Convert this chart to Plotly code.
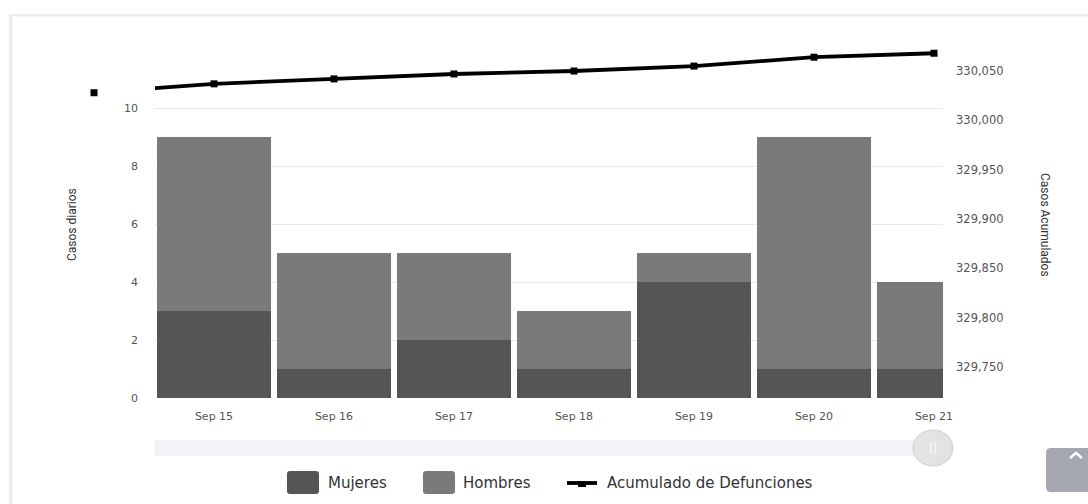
import plotly.graph_objects as go
from datetime import datetime, timedelta

# ---- data ----
bar_dates = ["2020-09-15", "2020-09-16", "2020-09-17", "2020-09-18",
             "2020-09-19", "2020-09-20", "2020-09-21"]
tick_labels = ["Sep 15", "Sep 16", "Sep 17", "Sep 18", "Sep 19", "Sep 20", "Sep 21"]
mujeres = [3, 1, 2, 1, 4, 1, 1]
hombres = [6, 4, 3, 2, 1, 8, 3]
line_dates = ["2020-09-14"] + bar_dates
acumulado = [330028, 330037, 330042, 330047, 330050, 330055, 330064, 330068]
left_ticks = [0, 2, 4, 6, 8, 10, 12]
left_ticktext = ["0", "2", "4", "6", "8", "10", ""]
right_ticks = [329750, 329800, 329850, 329900, 329950, 330000, 330050]

W, H = 1088, 504
ML = 40                 # paper left edge (px)
L, R, T, B = 155, 943, 50, 398   # plot area (px)
def px(x):
    return (x - ML) / (R - ML)
def py(y):
    return (B - y) / (B - T)

# date scale: 120 px per day, Sep 15 centred at x=214
ref_day = datetime(2020, 9, 15)
def date_at(p):
    return (ref_day + timedelta(days=(p - 214) / 120)).strftime("%Y-%m-%d %H:%M:%S")

DAY = 86400000
fig = go.Figure()
fig.add_trace(go.Bar(x=bar_dates, y=mujeres, name="Mujeres", width=0.95 * DAY,
                     marker=dict(color="#555555", line=dict(width=0)), showlegend=False))
fig.add_trace(go.Bar(x=bar_dates, y=hombres, name="Hombres", width=0.95 * DAY,
                     marker=dict(color="#7a7a7a", line=dict(width=0)), showlegend=False))
fig.add_trace(go.Scatter(x=line_dates, y=acumulado, name="Acumulado de Defunciones",
                         yaxis="y2", mode="lines",
                         line=dict(color="#000000", width=3.8), showlegend=False))
# bullets (drawn on a wider invisible subplot so the off-range bullet stays visible)
fig.add_trace(go.Scatter(x=line_dates, y=acumulado, name="Acumulado de Defunciones",
                         xaxis="x3", yaxis="y3", mode="markers", cliponaxis=False,
                         marker=dict(symbol="square", size=7, color="#000000"),
                         showlegend=False, hoverinfo="skip"))

tickfont = dict(family="'DejaVu Sans', sans-serif", size=11, color="#555555")
titlefont = dict(family="'Liberation Sans Narrow', 'Roboto', sans-serif", size=12, color="#333333")
yr2 = [329718.6, 330071.3]

fig.update_layout(
    width=W, height=H,
    margin=dict(l=ML, r=W - R, t=T, b=H - B),
    paper_bgcolor="white", plot_bgcolor="rgba(0,0,0,0)",
    barmode="stack", bargap=0,
    xaxis=dict(type="date", domain=[px(L), 1], range=[date_at(L), date_at(R)],
               tickvals=bar_dates, ticktext=tick_labels, showgrid=False,
               zeroline=False, showline=False, ticks="", tickfont=tickfont,
               ticklabelstandoff=10),
    yaxis=dict(range=[0, 12], tickvals=left_ticks, ticktext=left_ticktext,
               showgrid=True, gridcolor="#e9e9ee", gridwidth=1, zeroline=False,
               showline=False, ticks="", tickfont=tickfont, ticklabelstandoff=16),
    yaxis2=dict(overlaying="y", side="right", range=yr2,
                tickvals=right_ticks, tickformat=",", showgrid=False, zeroline=False,
                showline=False, ticks="", tickfont=dict(tickfont, size=11.5),
                ticklabelstandoff=12),
    xaxis3=dict(type="date", domain=[0, 1], range=[date_at(ML), date_at(R)],
                anchor="y3", visible=False, showgrid=False, zeroline=False),
    yaxis3=dict(domain=[0, 1], range=yr2, anchor="x3", visible=False,
                showgrid=False, zeroline=False),
)

shapes = []
# frame lines
shapes.append(dict(type="rect", xref="paper", yref="paper", x0=px(10), x1=px(1088),
                   y0=py(16.5), y1=py(14), fillcolor="#ebebf3", line=dict(width=0), layer="below"))
shapes.append(dict(type="rect", xref="paper", yref="paper", x0=px(9), x1=px(12.5),
                   y0=py(504), y1=py(14), fillcolor="#ebebf3", line=dict(width=0), layer="below"))
# scrollbar
shapes.append(dict(type="rect", xref="paper", yref="paper", x0=px(155), x1=px(950),
                   y0=py(456), y1=py(440), fillcolor="#f3f3f5", line=dict(width=0)))
shapes.append(dict(type="circle", xref="paper", yref="paper", x0=px(913), x1=px(953),
                   y0=py(466), y1=py(430), fillcolor="#e3e3e3", line=dict(color="#d0d0d0", width=1)))
shapes.append(dict(type="line", xref="paper", yref="paper", x0=px(931), x1=px(931),
                   y0=py(454), y1=py(442), line=dict(color="#f5f5f5", width=1.5)))
shapes.append(dict(type="line", xref="paper", yref="paper", x0=px(935), x1=px(935),
                   y0=py(454), y1=py(442), line=dict(color="#f5f5f5", width=1.5)))
# legend swatches
def rrect(x0, y0, x1, y1, r):
    return (f"M {px(x0+r)} {py(y0)} L {px(x1-r)} {py(y0)} Q {px(x1)} {py(y0)} {px(x1)} {py(y0+r)} "
            f"L {px(x1)} {py(y1-r)} Q {px(x1)} {py(y1)} {px(x1-r)} {py(y1)} "
            f"L {px(x0+r)} {py(y1)} Q {px(x0)} {py(y1)} {px(x0)} {py(y1-r)} "
            f"L {px(x0)} {py(y0+r)} Q {px(x0)} {py(y0)} {px(x0+r)} {py(y0)} Z")
shapes.append(dict(type="path", xref="paper", yref="paper", path=rrect(287, 471, 319, 494, 3),
                   fillcolor="#555555", line=dict(width=0)))
shapes.append(dict(type="path", xref="paper", yref="paper", path=rrect(423, 471, 455, 494, 3),
                   fillcolor="#7a7a7a", line=dict(width=0)))
shapes.append(dict(type="line", xref="paper", yref="paper", x0=px(567), x1=px(597),
                   y0=py(483), y1=py(483), line=dict(color="#000000", width=3.8)))
shapes.append(dict(type="rect", xref="paper", yref="paper", x0=px(578), x1=px(586),
                   y0=py(487), y1=py(481), fillcolor="#000000", line=dict(width=0)))
# scroll to top button
shapes.append(dict(type="path", xref="paper", yref="paper", path=rrect(1046, 448, 1096, 492, 5),
                   fillcolor="#a5a7b1", line=dict(width=0)))
shapes.append(dict(type="path", xref="paper", yref="paper",
                   path=f"M {px(1070)} {py(458)} L {px(1076)} {py(453)} L {px(1082)} {py(458)}",
                   line=dict(color="white", width=2.5)))
fig.update_layout(shapes=shapes)

legfont = dict(family="'DejaVu Sans', sans-serif", size=15, color="#333333")
anns = []
for x, txt in [(326, "Mujeres"), (461, "Hombres"), (605, "Acumulado de Defunciones")]:
    anns.append(dict(x=px(x), y=py(483), xref="paper", yref="paper", text=txt,
                     showarrow=False, xanchor="left", yanchor="middle", font=legfont))
anns.append(dict(x=px(72), y=py(225), xref="paper", yref="paper", text="Casos diarios",
                 showarrow=False, textangle=-90, xanchor="center", yanchor="middle",
                 font=titlefont))
anns.append(dict(x=px(1045), y=py(225), xref="paper", yref="paper", text="Casos Acumulados",
                 showarrow=False, textangle=90, xanchor="center", yanchor="middle",
                 font=titlefont))
fig.update_layout(annotations=anns)

fig.write_html("out.html")
